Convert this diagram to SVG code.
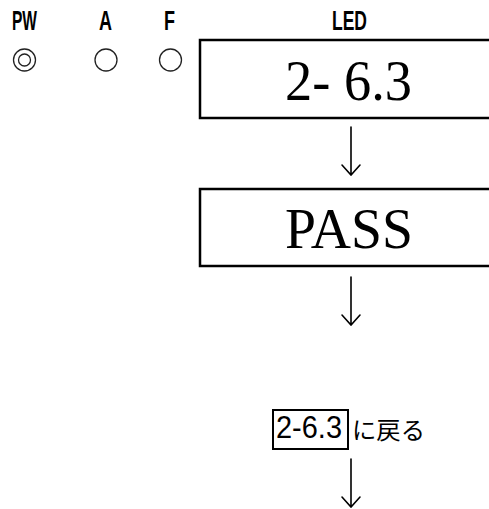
<svg xmlns="http://www.w3.org/2000/svg" width="489" height="509" viewBox="0 0 489 509">
<style>
.lbl{font-family:"Liberation Sans","DejaVu Sans",sans-serif;font-size:28px;font-weight:bold;fill:#000}
.num{font-family:"Liberation Sans","DejaVu Sans",sans-serif;font-size:31px;fill:#000}
.big{font-family:"Liberation Serif","DejaVu Serif",serif;fill:#000}
.box{fill:#fff;stroke:#000;stroke-width:2.5}
.lamp{fill:none;stroke:#222;stroke-width:1.3}
.arr{fill:none;stroke:#000;stroke-width:1.6;stroke-linecap:round;stroke-linejoin:miter}
.jp{font-family:"Noto Sans CJK JP",sans-serif;font-size:24px;fill:#000}
</style>
<rect width="489" height="509" fill="#fff"/>
<g id="labels">
<text class="lbl" x="12" y="30" textLength="25" lengthAdjust="spacingAndGlyphs">PW</text>
<text class="lbl" x="99" y="30" textLength="13" lengthAdjust="spacingAndGlyphs">A</text>
<text class="lbl" x="164" y="30" textLength="11" lengthAdjust="spacingAndGlyphs">F</text>
<text class="lbl" x="332" y="30" textLength="35" lengthAdjust="spacingAndGlyphs">LED</text>
</g>
<g id="lamps">
<circle class="lamp" cx="24.5" cy="60" r="11"/>
<circle class="lamp" cx="24.5" cy="60" r="6"/>
<circle class="lamp" cx="106" cy="60" r="11"/>
<circle class="lamp" cx="170.5" cy="60" r="11"/>
</g>
<g id="node-led1">
<rect class="box" x="200" y="40" width="300" height="78"/>
<text class="big" x="285" y="100" font-size="56" textLength="127" lengthAdjust="spacingAndGlyphs">2- 6.3</text>
</g>
<g id="node-led2">
<rect class="box" x="200" y="189" width="300" height="77"/>
<text class="big" x="285" y="248" font-size="58" textLength="128" lengthAdjust="spacingAndGlyphs">PASS</text>
</g>
<g id="node-return">
<rect x="273" y="410" width="75" height="39" fill="#fff" stroke="#000" stroke-width="2"/>
<text class="num" x="276" y="438" textLength="66" lengthAdjust="spacingAndGlyphs">2-6.3</text>
<text class="jp" x="352" y="439" textLength="73" lengthAdjust="spacingAndGlyphs">に戻る</text>
</g>
<g id="connectors">
<path class="arr" d="M351 127V175M342 165L351 175L360 165"/>
<path class="arr" d="M351 277V325M342 315L351 325L360 315"/>
<path class="arr" d="M351 459V507M342 497L351 507L360 497"/>
</g>
</svg>
